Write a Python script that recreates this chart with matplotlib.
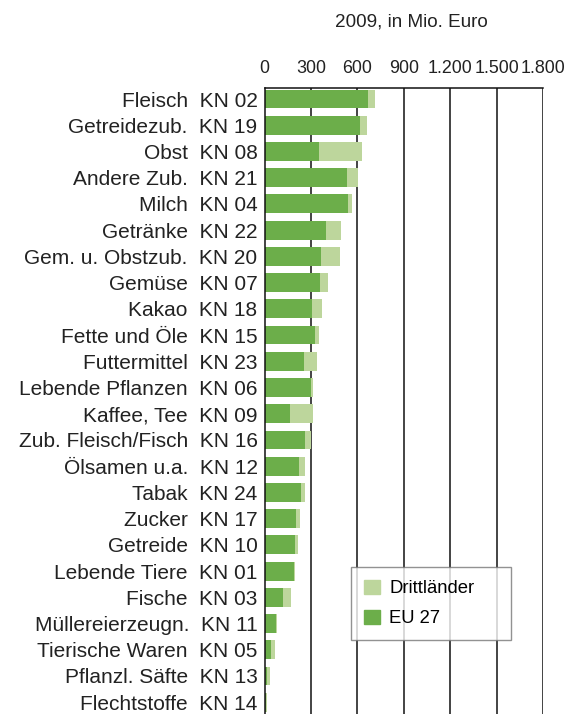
import numpy as np
import matplotlib.pyplot as plt
from matplotlib.patches import Patch
from matplotlib.ticker import FuncFormatter

plt.rcParams['font.family'] = ['Liberation Sans', 'DejaVu Sans']

# Einfuhr 2009, Mio. Euro
names = ["Fleisch", "Getreidezub.", "Obst", "Andere Zub.", "Milch", "Getränke",
         "Gem. u. Obstzub.", "Gemüse", "Kakao", "Fette und Öle", "Futtermittel",
         "Lebende Pflanzen", "Kaffee, Tee", "Zub. Fleisch/Fisch", "Ölsamen u.a.",
         "Tabak", "Zucker", "Getreide", "Lebende Tiere", "Fische",
         "Müllereierzeugn.", "Tierische Waren", "Pflanzl. Säfte", "Flechtstoffe"]
codes = ["02", "19", "08", "21", "04", "22", "20", "07", "18", "15", "23",
         "06", "09", "16", "12", "24", "17", "10", "01", "03", "11", "05", "13", "14"]
eu27 = [671, 617, 353, 534, 540, 398, 366, 359, 308, 327, 256,
        301, 166, 262, 224, 237, 205, 198, 192, 121, 76, 43, 18, 11]
drittlaender = [43, 45, 277, 70, 26, 97, 122, 52, 64, 26, 84,
                13, 148, 39, 38, 25, 25, 19, 6, 51, 6, 26, 19, 2]
xticks = [0, 300, 600, 900, 1200, 1500, 1800]

c_eu = '#6CAE4A'
c_dr = '#BDD69C'

W, H = 577, 714
x0, x1, ytop = 264.5, 543, 88

fig = plt.figure(figsize=(W / 100, H / 100), dpi=100)
ax = fig.add_axes([x0 / W, 0, (x1 - x0) / W, 1 - ytop / H])

y = np.arange(len(names))
ax.barh(y, eu27, height=0.72, color=c_eu, zorder=2)
ax.barh(y, drittlaender, left=eu27, height=0.72, color=c_dr, zorder=2)

ax.set_xlim(0, 1800)
ax.set_ylim(len(names) - 0.55, -0.42)
ax.set_xticks(xticks)
ax.xaxis.set_major_formatter(FuncFormatter(lambda v, p: f"{int(v):,}".replace(",", ".")))
ax.xaxis.tick_top()
ax.tick_params(axis='x', length=0, pad=8, labelsize=12.9, colors='#222222')
ax.tick_params(axis='y', length=0, pad=5, labelsize=15, colors='#222222')
ax.set_yticks(y)
ax.set_yticklabels([f"{n}  KN {c}" for n, c in zip(names, codes)])

for t in xticks[1:]:
    ax.axvline(t, color='#111111', lw=1.1, zorder=1)
for s in ['left', 'top']:
    ax.spines[s].set_linewidth(1.1)
    ax.spines[s].set_color('#111111')
ax.spines['right'].set_visible(False)
ax.spines['bottom'].set_visible(False)

fig.text(411 / W, 1 - 22 / H, "2009, in Mio. Euro", ha='center', va='center',
         fontsize=13.6, color='#222222')

# legend box: 351..511 px wide, top at 567 px
lx = (351 - x0) / (x1 - x0)
lw = (511 - 351) / (x1 - x0)
lt = 1 - (567 - ytop) / (H - ytop)
handles = [Patch(color=c_dr, label="Drittländer"), Patch(color=c_eu, label="EU 27")]
leg = ax.legend(handles=handles, loc='upper left', mode='expand',
                bbox_to_anchor=(lx, lt - 0.1, lw, 0.1),
                fontsize=13.3, frameon=True, fancybox=False, edgecolor='#777777',
                handlelength=0.87, handleheight=0.8, borderpad=0.7, labelspacing=0.68,
                handletextpad=0.5, borderaxespad=0)
leg.get_frame().set_linewidth(1.0)
leg.set_zorder(5)

fig.savefig("out.png", dpi=100)
